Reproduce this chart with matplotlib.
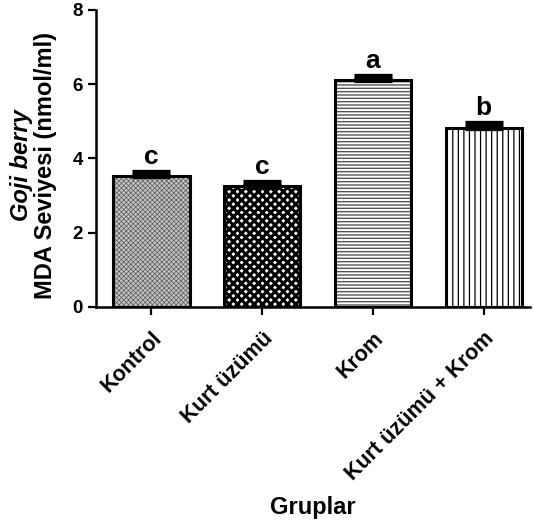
import matplotlib
matplotlib.use("Agg")
import matplotlib.pyplot as plt

groups = ["Kontrol", "Kurt üzümü", "Krom", "Kurt üzümü + Krom"]
mda_means = [3.52, 3.25, 6.12, 4.83]
mda_errors = [0.12, 0.11, 0.11, 0.12]
letters = ["c", "c", "a", "b"]

plt.rcParams["font.family"] = ["Liberation Sans", "DejaVu Sans"]
plt.rcParams["font.weight"] = "bold"

fig = plt.figure(figsize=(5.34, 5.22), dpi=100)
ax = fig.add_axes([0.180, 0.412, 0.813, 0.569])

x_pos = list(range(len(groups)))
bar_width = 0.69

# hatch fill layer for each bar (hatch colour follows edgecolor)
fills = [
    dict(facecolor="#c4c4c4", edgecolor="#5a5a5a", hatch="xxxxxxx", lw_hatch=0.5),
    dict(facecolor="white", edgecolor="black", hatch="xxxx", lw_hatch=2.2),
    dict(facecolor="white", edgecolor="#555555", hatch="-----", lw_hatch=1.0),
    dict(facecolor="white", edgecolor="black", hatch="|||", lw_hatch=0.9),
]
for i, style in enumerate(fills):
    plt.rcParams["hatch.linewidth"] = style["lw_hatch"]
    bar = ax.bar(x_pos[i], mda_means[i], width=bar_width, facecolor=style["facecolor"],
                 edgecolor=style["edgecolor"], hatch=style["hatch"], linewidth=0)[0]
    if hasattr(bar, "set_hatch_linewidth"):
        bar.set_hatch_linewidth(style["lw_hatch"])

# black outlines on top
ax.bar(x_pos, mda_means, width=bar_width, facecolor="none", edgecolor="black", linewidth=2.2)

ax.errorbar(x_pos, mda_means, yerr=[[0] * len(groups), mda_errors], fmt="none",
            ecolor="black", elinewidth=2, capsize=14, capthick=3.8)

for i, letter in enumerate(letters):
    ax.text(x_pos[i], mda_means[i] + mda_errors[i] + 0.08, letter, ha="center", va="bottom",
            fontsize=19, fontweight="bold")

ax.set_xlim(-0.5, 3.42)
ax.set_ylim(0, 8)
ax.set_yticks([0, 2, 4, 6, 8])
ax.set_xticks(x_pos)
ax.set_xticklabels(groups, rotation=45, ha="right", rotation_mode="anchor", fontsize=15.5,
                   fontweight="bold")
ax.tick_params(axis="y", labelsize=13.5, width=1.6, length=6)
ax.tick_params(axis="x", width=1.6, length=6, pad=9)

for side in ["top", "right"]:
    ax.spines[side].set_visible(False)
for side in ["left", "bottom"]:
    ax.spines[side].set_linewidth(1.8)

ax.set_xlabel("Gruplar", fontsize=17, fontweight="bold", labelpad=8)
fig.text(0.040, 0.683, "Goji berry", rotation=90, ha="center", va="center", fontsize=17,
         fontweight="bold", style="italic")
fig.text(0.085, 0.683, "MDA Seviyesi (nmol/ml)", rotation=90, ha="center", va="center",
         fontsize=17, fontweight="bold")

fig.savefig("out.png", dpi=100)
